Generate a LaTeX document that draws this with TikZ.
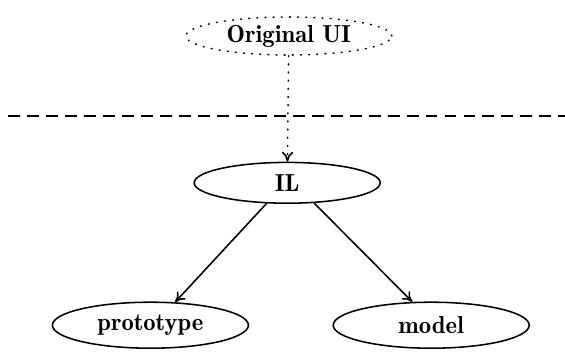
\documentclass[tikz,border=0pt]{standalone}
\usepackage{tikz}
\usetikzlibrary{shapes.geometric,arrows.meta,positioning}
\tikzstyle{box} = [ellipse,draw,line width=1.1pt,inner sep=0pt,minimum width=4.9cm,minimum height=1.15cm,font=\fontsize{17.5}{20}\fontseries{b}\selectfont]
\tikzstyle{dotbox} = [box,dash pattern=on 0.6pt off 5.2pt,line cap=round]
\tikzset{>={To[length=7pt,width=8pt]}}

\begin{document}
\begin{tikzpicture}
    \useasboundingbox (0,0) rectangle (14.125,8.8);

    \node [dotbox,minimum width=5.15cm,minimum height=0.95cm] (orig) at (7.22,7.9) {Original UI};
    \node [box,minimum width=4.65cm,minimum height=1.02cm] (il) at (7.18,4.23) {IL};
    \node [box] (proto) at (3.76,0.67) {prototype};
    \node [box] (model) at (10.78,0.67) {model};

    % separation line
    \coordinate (sepL) at (0.2,5.9);
    \coordinate (sepR) at (14.125,5.9);
    \draw [line width=1.1pt,dash pattern=on 8.5pt off 5pt] (sepL) -- (sepR);

    \draw [->,line width=1.1pt,dash pattern=on 0.6pt off 5.2pt,line cap=round] (orig) -- (il);
    \draw [->,line width=1.1pt] (il.-135) -- (proto.43);
    \draw [->,line width=1.1pt] (il.-37) -- (model.129);
  \end{tikzpicture}
\end{document}
